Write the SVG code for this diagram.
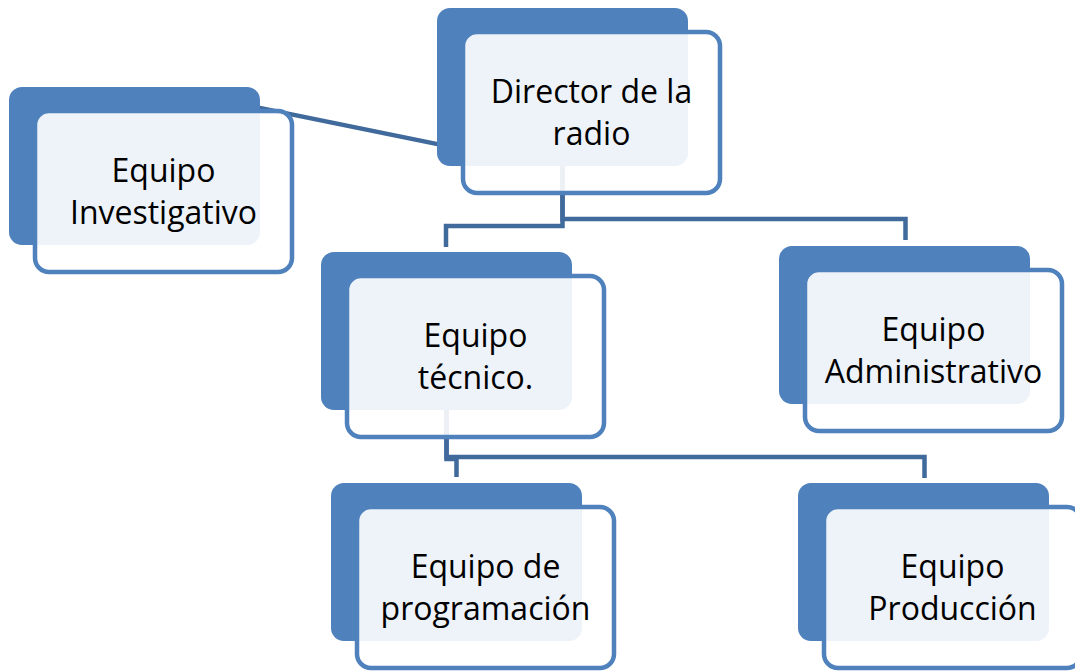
<svg xmlns="http://www.w3.org/2000/svg" width="1075" height="672" viewBox="0 0 1075 672">
<style>
.back{fill:#4F81BD;}
.front{fill:#FFFFFF;fill-opacity:0.9;stroke:#4F81BD;stroke-width:4.5;}
.conn{fill:none;stroke:#40699C;stroke-width:4.5;stroke-linejoin:miter;}
.lbl{font-family:"Open Sans","Noto Sans","Liberation Sans",sans-serif;font-size:32px;fill:#000000;text-anchor:middle;}
</style>
<defs>
<g id="card">
<rect class="back" x="0" y="0" width="251" height="158" rx="13" ry="13"/>
<rect class="front" x="26" y="24" width="257" height="161" rx="14" ry="14"/>
</g>
</defs>
<rect x="0" y="0" width="1075" height="672" fill="#FFFFFF"/>
<g id="connectors">
<path class="conn" d="M250 105.9 L440 144.6"/>
<path class="conn" d="M562.5 166 V226 H446 V247"/>
<path class="conn" d="M562.5 166 V219 H905.5 V240"/>
<path class="conn" d="M446.5 410 V459 H456.5 V477"/>
<path class="conn" d="M446.5 410 V457 H924.5 V478"/>
</g>
<g id="node-director" transform="translate(437,8)">
<use href="#card"/>
<text class="lbl" x="154.5" y="95">Director de la</text>
<text class="lbl" x="154.5" y="137">radio</text>
</g>
<g id="node-investigativo" transform="translate(9,87)">
<use href="#card"/>
<text class="lbl" x="154.5" y="95">Equipo</text>
<text class="lbl" x="154.5" y="137">Investigativo</text>
</g>
<g id="node-tecnico" transform="translate(321,252)">
<use href="#card"/>
<text class="lbl" x="154.5" y="95">Equipo</text>
<text class="lbl" x="154.5" y="137">técnico.</text>
</g>
<g id="node-administrativo" transform="translate(779,246)">
<use href="#card"/>
<text class="lbl" x="154.5" y="95">Equipo</text>
<text class="lbl" x="154.5" y="137">Administrativo</text>
</g>
<g id="node-programacion" transform="translate(331,483)">
<use href="#card"/>
<text class="lbl" x="154.5" y="95">Equipo de</text>
<text class="lbl" x="154.5" y="137">programación</text>
</g>
<g id="node-produccion" transform="translate(798,483)">
<use href="#card"/>
<text class="lbl" x="154.5" y="95">Equipo</text>
<text class="lbl" x="154.5" y="137">Producción</text>
</g>
</svg>
